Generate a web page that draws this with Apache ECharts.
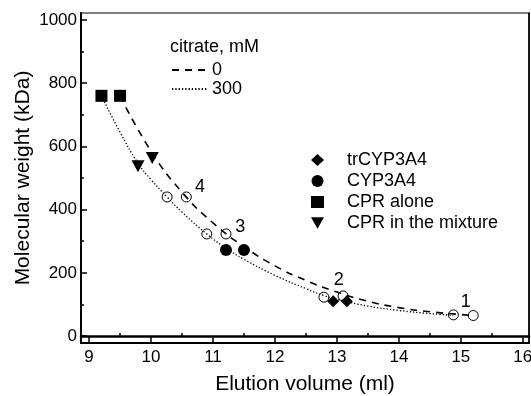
<!DOCTYPE html>
<html>
<head>
<meta charset="utf-8">
<script src="https://cdn.jsdelivr.net/npm/echarts@6/dist/echarts.min.js"></script>
<style>
  html, body { margin: 0; padding: 0; background: #fff; }
  #chart { width: 531px; height: 396px; }
</style>
</head>
<body>
<div id="chart"></div>
<script>
// fitted curves (elution volume, kDa)
const curve0 = [[9.5, 760], [10.0, 585], [10.5, 455], [11.0, 358], [11.5, 283], [12.0, 222], [12.5, 176], [13.0, 139], [13.5, 110], [14.0, 90], [14.5, 77], [15.0, 68], [15.2, 65]]
const curve300 = [[9.2, 760], [9.5, 645], [9.79, 547], [10.0, 495], [10.26, 440], [10.5, 392], [10.9, 323], [11.21, 278], [11.5, 243], [12.0, 192], [12.5, 150], [12.79, 128], [13.0, 116], [13.5, 95], [14.0, 81], [14.5, 71], [14.88, 66]]
// standards (open circles)
const std0 = [[10.57, 440], [11.21, 323], [13.1, 127], [15.2, 65]]
const std300 = [[10.26, 440], [10.9, 323], [12.79, 123], [14.88, 67]]
const stdLabels = [[10.79, 470, '4'], [11.44, 345, '3'], [13.03, 177, '2'], [15.08, 108, '1']]
// proteins
const trCYP = [[12.94, 110], [13.16, 110]]
const cyp = [[11.21, 272], [11.5, 272]]
const cprAlone = [[9.2, 760], [9.5, 760]]
const cprMix = [[9.79, 537], [10.02, 563]]

const xTicks = [9, 10, 11, 12, 13, 14, 15, 16]
const xMinor = [9.5, 10.5, 11.5, 12.5, 13.5, 14.5, 15.5]
const yTicks = [0, 200, 400, 600, 800, 1000]
const yMinor = [100, 300, 500, 700, 900]

const font = 'Liberation Sans, Arial, sans-serif'
const triDown = 'path://M0,0 L10,0 L5,9 Z'

const myChart = echarts.init(document.getElementById('chart'))

const xBase = {
  type: 'value', min: 8.87, max: 16.1, position: 'bottom',
  splitLine: { show: false }
}
const yBase = {
  type: 'value', min: -22, max: 1022, position: 'left',
  splitLine: { show: false }
}
const solid = { color: '#000', opacity: 1 }
const hollow = { color: 'rgba(0,0,0,0)', borderColor: '#000', borderWidth: 1, opacity: 1 }

let option = {
  animation: false,
  backgroundColor: '#fff',
  textStyle: { fontFamily: font, color: '#000' },
  grid: {
    left: 81, top: 13, right: 2, bottom: 53, outerBoundsMode: 'none',
    show: true, borderColor: '#000', borderWidth: 1.2
  },
  title: {
    text: 'citrate, mM', left: 165, top: 33,
    textStyle: { fontFamily: font, fontSize: 18, fontWeight: 'normal', color: '#000' }
  },
  legend: [
    {
      data: ['0', '300'], orient: 'vertical', left: 166, top: 56,
      itemWidth: 35, itemHeight: 14, itemGap: 1,
      itemStyle: { opacity: 0 },
      textStyle: { fontFamily: font, fontSize: 18, color: '#000' }
    },
    {
      data: [
        { name: 'trCYP3A4', icon: 'diamond' },
        { name: 'CYP3A4', icon: 'circle' },
        { name: 'CPR alone', icon: 'rect' },
        { name: 'CPR in the mixture', icon: triDown }
      ],
      orient: 'vertical', left: 306, top: 146,
      itemWidth: 13, itemHeight: 12, itemGap: 3,
      textStyle: { fontFamily: font, fontSize: 18, color: '#000', padding: [0, 0, 0, 18] }
    }
  ],
  xAxis: [
    Object.assign({}, xBase, {
      name: 'Elution volume (ml)', nameLocation: 'middle', nameGap: 31,
      nameTextStyle: { fontFamily: font, fontSize: 21, color: '#000' },
      axisLine: { onZero: false, lineStyle: { color: '#000', width: 2 } },
      axisTick: { inside: true, length: 6, customValues: xTicks, lineStyle: { color: '#000', width: 1.5 } },
      axisLabel: { customValues: xTicks, fontFamily: font, fontSize: 17, color: '#000', margin: 6 }
    }),
    Object.assign({}, xBase, {
      axisLine: { show: false },
      axisTick: { inside: true, length: 3, customValues: xMinor, lineStyle: { color: '#000', width: 1.5 } },
      axisLabel: { show: false }
    }),
    Object.assign({}, xBase, {
      position: 'top',
      axisLine: { lineStyle: { color: '#000', width: 2.5 } },
      axisTick: { show: false },
      axisLabel: { show: false }
    })
  ],
  yAxis: [
    Object.assign({}, yBase, {
      name: 'Molecular weight (kDa)', nameLocation: 'middle', nameGap: 47, nameMoveOverlap: false,
      nameTextStyle: { fontFamily: font, fontSize: 21, color: '#000' },
      axisLine: { onZero: false, lineStyle: { color: '#000', width: 2 } },
      axisTick: { inside: true, length: 6, customValues: yTicks, lineStyle: { color: '#000', width: 1.5 } },
      axisLabel: { customValues: yTicks, formatter: v => String(v), fontFamily: font, fontSize: 17, color: '#000', margin: 4 }
    }),
    Object.assign({}, yBase, {
      axisLine: { show: false },
      axisTick: { inside: true, length: 3, customValues: yMinor, lineStyle: { color: '#000', width: 1.5 } },
      axisLabel: { show: false }
    }),
    Object.assign({}, yBase, {
      position: 'right',
      axisLine: { onZero: false, lineStyle: { color: '#000', width: 1.5 } },
      axisTick: { show: false },
      axisLabel: { show: false }
    })
  ],
  series: [
    {
      name: '0', type: 'line', data: curve0, smooth: true, symbol: 'none',
      lineStyle: { color: '#000', width: 1.6, type: [7, 6] }, itemStyle: { color: '#000' }, z: 2
    },
    {
      name: '300', type: 'line', data: curve300, smooth: true, symbol: 'none',
      lineStyle: { color: '#000', width: 1.3, type: [1.3, 2] }, itemStyle: { color: '#000' }, z: 2
    },
    { name: 'std0', type: 'scatter', data: std0, symbol: 'circle', symbolSize: 10, itemStyle: hollow, z: 3 },
    { name: 'std300', type: 'scatter', data: std300, symbol: 'circle', symbolSize: 10, itemStyle: hollow, z: 3 },
    {
      name: 'labels', type: 'scatter', symbolSize: 0, itemStyle: solid,
      data: stdLabels.map(d => ({ value: [d[0], d[1]], label: { show: true, formatter: d[2] } })),
      label: { position: 'inside', fontFamily: font, fontSize: 18, color: '#000', textBorderWidth: 0 }, z: 4
    },
    { name: 'trCYP3A4', type: 'scatter', data: trCYP, symbol: 'diamond', symbolSize: 12, itemStyle: solid, z: 5 },
    { name: 'CYP3A4', type: 'scatter', data: cyp, symbol: 'circle', symbolSize: 12, itemStyle: solid, z: 5 },
    { name: 'CPR alone', type: 'scatter', data: cprAlone, symbol: 'rect', symbolSize: 12, itemStyle: solid, z: 5 },
    { name: 'CPR in the mixture', type: 'scatter', data: cprMix, symbol: triDown, symbolSize: [13, 12], itemStyle: solid, z: 5 }
  ]
}
myChart.setOption(option)
</script>
</body>
</html>
